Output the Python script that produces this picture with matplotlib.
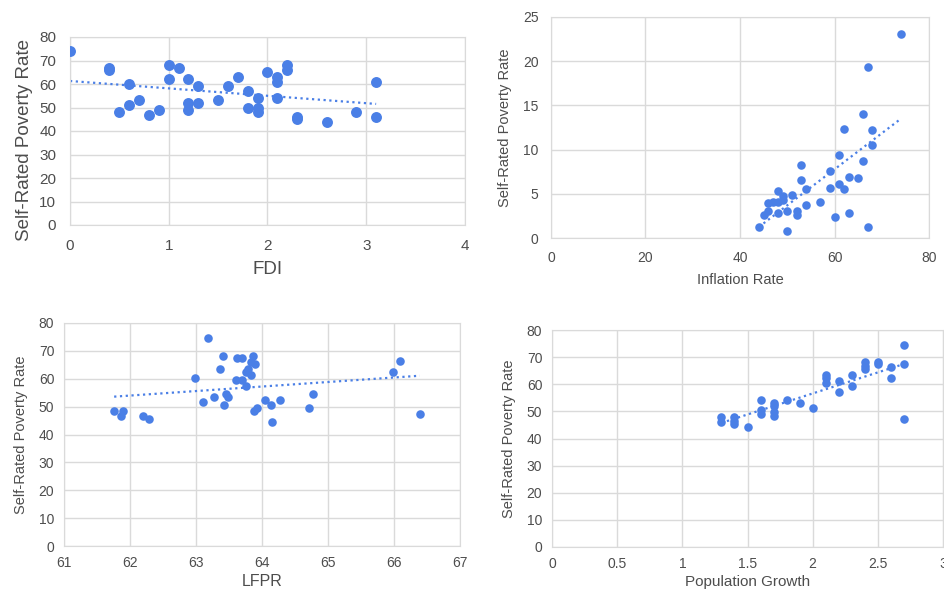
import numpy as np
import matplotlib.pyplot as plt

plt.rcParams['font.family'] = ['Liberation Sans', 'DejaVu Sans']

# FDI vs self-rated poverty
fdi = [0, 0.4, 0.4, 0.5, 0.6, 0.6, 0.7, 0.8, 0.9, 1.0, 1.0, 1.1, 1.2, 1.2, 1.2,
       1.3, 1.3, 1.5, 1.6, 1.7, 1.8, 1.8, 1.9, 1.9, 1.9, 2.0, 2.1, 2.1, 2.1,
       2.2, 2.2, 2.3, 2.3, 2.6, 2.9, 3.1, 3.1]
fdi_pov = [74, 67, 66, 48, 60, 51, 53, 47, 49, 68, 62, 67, 62, 52, 49,
           59, 52, 53, 59, 63, 57, 50, 54, 50, 48, 65, 63, 61, 54,
           68, 66, 46, 45, 44, 48, 61, 46]

# Inflation rate
infl = [74, 67, 66, 62, 68, 68, 61, 66, 53, 59, 63, 65, 53, 61, 59, 62, 54,
        48, 51, 49, 49, 48, 47, 46, 57, 54, 46, 50, 52, 52, 48, 45, 63, 60,
        44, 50, 67]
infl_pov = [23.1, 19.3, 14.0, 12.3, 12.2, 10.5, 9.4, 8.7, 8.3, 7.6, 6.9, 6.8,
            6.6, 6.1, 5.6, 5.5, 5.5, 5.3, 4.9, 4.8, 4.3, 4.1, 4.1, 4.0, 4.1,
            3.7, 3.0, 3.0, 3.1, 2.6, 2.8, 2.6, 2.8, 2.4, 1.3, 0.8, 1.2]

# Labour force participation rate
lfpr = [63.18, 63.41, 63.86, 63.62, 63.69, 66.09, 63.83, 63.90, 63.36, 63.79,
        63.75, 63.83, 65.99, 62.98, 63.60, 63.69, 63.75, 63.46, 64.78, 63.48,
        63.27, 64.04, 64.28, 63.11, 63.43, 64.14, 61.76, 61.89, 61.86, 62.19,
        62.29, 64.71, 63.93, 63.88, 66.39, 64.15]
lfpr_pov = [74.6, 68.3, 68.3, 67.4, 67.4, 66.3, 66.1, 65.3, 63.4, 63.4,
            62.4, 61.4, 62.4, 60.4, 59.5, 59.5, 57.4, 54.4, 54.4, 53.4,
            53.5, 52.5, 52.5, 51.6, 50.5, 50.5, 48.6, 48.6, 46.5, 46.5,
            45.6, 49.5, 49.5, 48.6, 47.5, 44.6]

# Population growth
popg = [1.3, 1.3, 1.4, 1.4, 1.4, 1.5, 1.6, 1.6, 1.6, 1.7, 1.7, 1.7, 1.7, 1.8,
        1.9, 2.0, 2.1, 2.1, 2.1, 2.2, 2.2, 2.3, 2.3, 2.4, 2.4, 2.4, 2.5, 2.5,
        2.6, 2.6, 2.7, 2.7, 2.7]
popg_pov = [48, 46.2, 48.1, 46.5, 45.2, 44.1, 54.2, 50.5, 49.2, 53.2, 51.9,
            49.8, 48.2, 54.2, 53.2, 51.2, 63.4, 62.2, 60.3, 61.3, 57.2, 63.3,
            59.2, 68.3, 66.8, 65.5, 68.3, 67.3, 66.3, 62.3, 74.5, 67.3, 47.1]

blue = '#4a7fe6'
grid = '#dadada'
txt = '#4d4d4d'
W, H = 945, 593

fig = plt.figure(figsize=(W / 100, H / 100), dpi=100)


def panel(box, x, y, xlabel, xlim, xticks, ylim, yticks, ms, tfs, lfs, xlfs,
          ypad=8, xpad=6, tpad=0.9, xtl=None):
    l, t, r, b = box
    ax = fig.add_axes([l / W, 1 - b / H, (r - l) / W, (b - t) / H])
    ax.scatter(x, y, s=ms, color=blue, zorder=3, linewidths=0)
    k, c = np.polyfit(x, y, 1)
    xs = np.array([min(x), max(x)])
    ax.plot(xs, k * xs + c, color=blue, lw=1.6, ls=(0, (1, 1.6)), zorder=2)
    ax.set_xlim(*xlim)
    ax.set_ylim(*ylim)
    ax.set_xticks(xticks)
    if xtl is not None:
        ax.set_xticklabels(xtl)
    ax.set_yticks(yticks)
    ax.grid(True, color=grid, lw=1)
    ax.set_axisbelow(True)
    for s in ax.spines.values():
        s.set_color(grid)
    ax.tick_params(length=0, labelsize=tfs, colors=txt, pad=tfs * tpad)
    ax.set_xlabel(xlabel, fontsize=xlfs, color=txt, labelpad=xpad)
    ax.set_ylabel('Self-Rated Poverty Rate', fontsize=lfs, color=txt,
                  labelpad=ypad)
    return ax


ax1 = panel((70, 37, 465, 225), fdi, fdi_pov, 'FDI', (0, 4), [0, 1, 2, 3, 4],
            (0, 80), range(0, 81, 10), 62, 11, 13.5, 13.5, ypad=4)
ax1.yaxis.set_label_coords(-0.094, 0.45)
panel((551, 17, 929, 238), infl, infl_pov, 'Inflation Rate', (0, 80),
      [0, 20, 40, 60, 80], (0, 25), range(0, 26, 5), 38, 10, 10.5, 10.5)
panel((64, 323, 460, 546), lfpr, lfpr_pov, 'LFPR', (61, 67),
      range(61, 68), (0, 80), range(0, 81, 10), 38, 10, 10.5, 11.5,
      xpad=3, tpad=0.7)
panel((552, 330, 943, 547), popg, popg_pov, 'Population Growth', (0, 3),
      [0, 0.5, 1, 1.5, 2, 2.5, 3], (0, 80), range(0, 81, 10), 38, 10, 10.5, 11,
      xpad=3, tpad=0.7, xtl=['0', '0.5', '1', '1.5', '2', '2.5', '3'])

fig.savefig('out.png', dpi=100)
